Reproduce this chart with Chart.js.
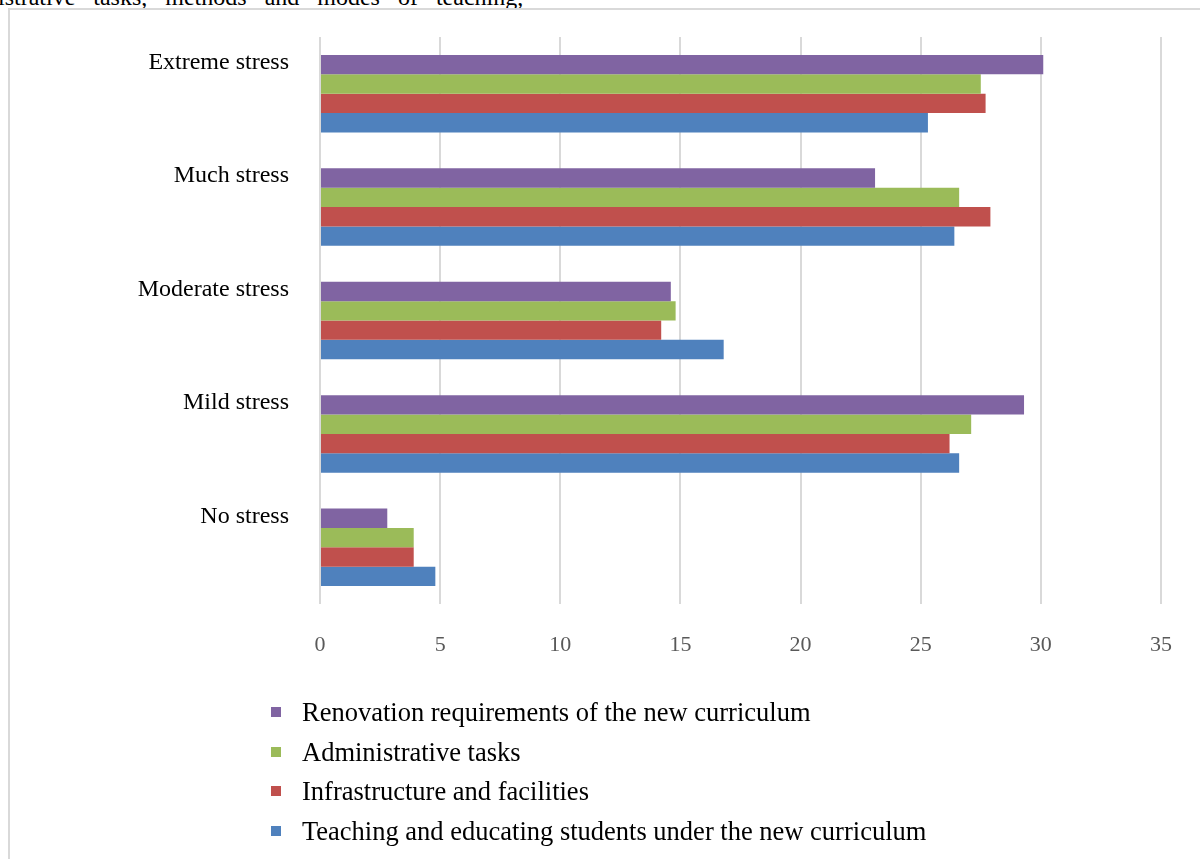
<!DOCTYPE html>
<html>
<head>
<meta charset="utf-8">
<script src="https://cdn.jsdelivr.net/npm/chart.js@4.4.1/dist/chart.umd.min.js"></script>
<style>
  html, body { margin: 0; padding: 0; background: #fff; overflow: hidden; }
  body { width: 1200px; height: 859px; position: relative; }
  .lead-text {
    position: absolute; left: -62px; top: -16px; white-space: nowrap;
    font: 24px "Liberation Serif", "Times New Roman", serif; color: #000; word-spacing: 12px;
  }
  .frame {
    position: absolute; left: 8px; top: 8px; width: 1300px; height: 900px;
    border-left: 2px solid #d9d9d9; border-top: 2px solid #d9d9d9;
  }
  #chartWrap { position: absolute; left: 0; top: 0; width: 1200px; height: 859px; }
  #legend { position: absolute; left: 271px; top: 697px; margin: 0; padding: 0; list-style: none; }
  #legend li {
    height: 39.7px; line-height: 30px; position: relative; padding-left: 31px;
    font: 26.5px "Liberation Serif", "Times New Roman", serif; color: #000; white-space: nowrap;
  }
  #legend li span { position: absolute; left: 0; top: 10px; width: 10px; height: 10px; }
</style>
</head>
<body>
<div class="lead-text">administrative tasks, methods and modes of teaching,</div>
<div class="frame"></div>
<div id="chartWrap"><canvas id="stressChart"></canvas></div>
<ul id="legend"></ul>

<script>
// stress levels, top to bottom
const levels = ['Extreme stress', 'Much stress', 'Moderate stress', 'Mild stress', 'No stress'];

const seriesNames = [
  'Renovation requirements of the new curriculum',
  'Administrative tasks',
  'Infrastructure and facilities',
  'Teaching and educating students under the new curriculum'
];
const seriesColors = ['#8064A2', '#9BBB59', '#C0504D', '#4F81BD'];

const renovation     = [30.1, 23.1, 14.6, 29.3, 2.8];
const administrative = [27.5, 26.6, 14.8, 27.1, 3.9];
const infrastructure = [27.7, 27.9, 14.2, 26.2, 3.9];
const teaching       = [25.3, 26.4, 16.8, 26.6, 4.8];

const xTicks = [0, 5, 10, 15, 20, 25, 30, 35];

const seriesValues = [renovation, administrative, infrastructure, teaching];

function buildLegend(chart) {
  const list = document.getElementById('legend');
  list.innerHTML = chart.data.datasets.map(ds =>
    `<li><span style="background:${ds.backgroundColor}"></span>${ds.label}</li>`
  ).join('');
}

function init() {
  const ctx = document.getElementById('stressChart');
  const chart = new Chart(ctx, {
    type: 'bar',
    data: {
      labels: levels,
      datasets: seriesNames.map((name, i) => ({
        label: name,
        data: seriesValues[i],
        backgroundColor: seriesColors[i],
        borderWidth: 0,
        categoryPercentage: 0.683,
        barPercentage: 1.0
      }))
    },
    options: {
      indexAxis: 'y',
      responsive: true,
      maintainAspectRatio: false,
      animation: false,
      layout: { padding: { top: 37, right: 37, bottom: 185, left: 0 } },
      plugins: {
        legend: { display: false },
        tooltip: { enabled: false }
      },
      scales: {
        x: {
          min: 0,
          max: 35,
          afterBuildTicks: scale => { scale.ticks = xTicks.map(v => ({ value: v })); },
          afterFit: scale => { scale.height = 70; },
          grid: { color: '#d9d9d9', lineWidth: 2, drawTicks: false },
          border: { display: false },
          ticks: {
            padding: 28,
            color: '#595959',
            font: { family: '"Liberation Serif", serif', size: 22 }
          }
        },
        y: {
          // fixed label column; the label gap should not push the plot down
          afterFit: scale => {
            scale.width = 320;
            scale.paddingTop = 0;
            scale.paddingBottom = 0;
          },
          grid: { display: false, drawTicks: false },
          border: { display: false },
          ticks: {
            padding: 31,
            labelOffset: -31,
            color: '#000',
            font: { family: '"Liberation Serif", serif', size: 24 }
          }
        }
      }
    }
  });
  buildLegend(chart);
}

document.addEventListener('DOMContentLoaded', init);
</script>
</body>
</html>
